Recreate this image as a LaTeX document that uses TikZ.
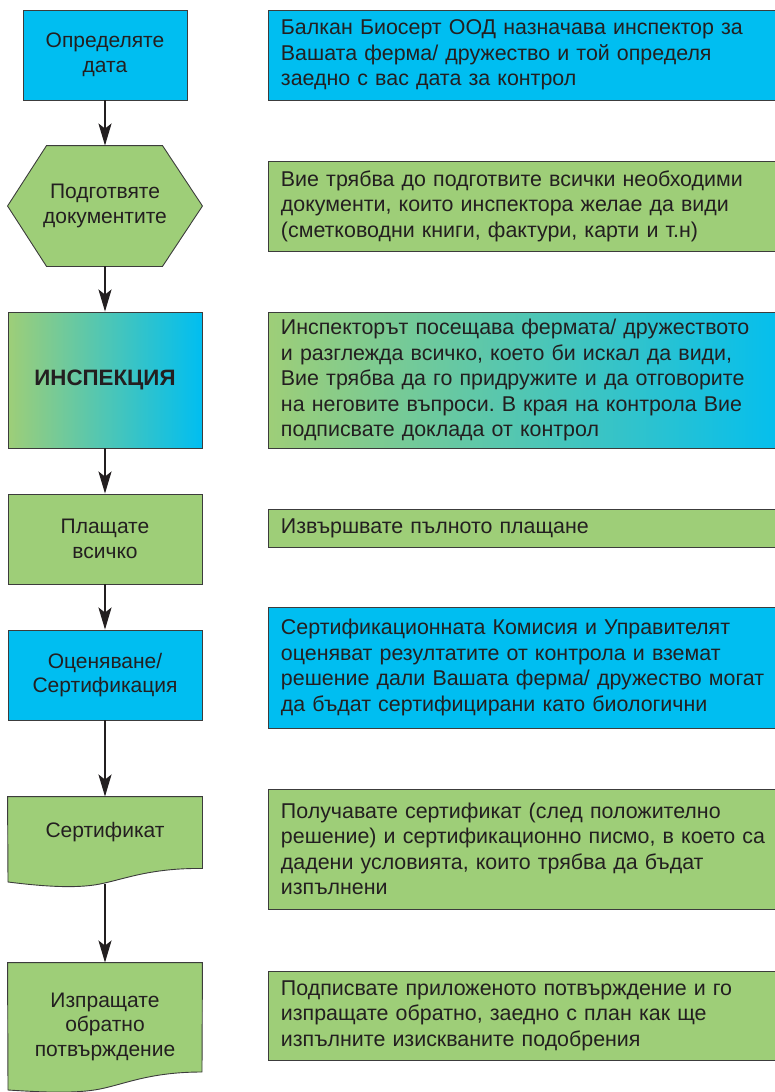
\documentclass[tikz,border=0pt]{standalone}
\usepackage{fontspec}
\setmainfont{Liberation Sans}
\usetikzlibrary{arrows.meta, positioning, backgrounds}
\definecolor{bioblue}{RGB}{0,190,241}
\definecolor{biogreen}{RGB}{158,206,120}
\definecolor{edgegray}{RGB}{60,60,60}
\definecolor{inktext}{RGB}{35,31,32}
\frenchspacing
\tikzset{
  stepbox/.style={draw=edgegray, line width=0.9pt, minimum width=194pt, inner sep=0pt,
    align=center, text=inktext, font=\fontsize{21}{24.5}\selectfont},
  notebox/.style={draw=edgegray, line width=0.9pt, anchor=west, text width=500pt,
    inner xsep=12.5pt, inner ysep=0pt, align=left, text=inktext,
    font=\fontsize{21.4}{25.5}\selectfont},
  shapeline/.style={draw=edgegray, line width=0.9pt, fill=biogreen},
  flow/.style={line width=2pt, draw=inktext, -{Stealth[length=22pt, width=13pt, inset=5pt]}},
}

\begin{document}
\begin{tikzpicture}[x=1pt, y=-1pt]
  \path[use as bounding box, clip] (0,0) rectangle (775,1092);

  \node[stepbox, fill=bioblue, minimum width=164pt, minimum height=90pt] (date) at (105,55) {Определяте\\дата};
  \node[stepbox, draw=none, minimum height=120pt] (prep) at (105,206) {Подготвяте\\документите};
  \node[stepbox, minimum height=136pt, left color=biogreen, right color=bioblue,
    font=\fontsize{22.3}{25}\selectfont\bfseries] (insp) at (105,380) {ИНСПЕКЦИЯ};
  \node[stepbox, fill=biogreen, minimum height=90pt] (pay) at (105,539) {Плащате\\всичко};
  \node[stepbox, fill=bioblue, minimum height=90pt] (eval) at (105,675) {Оценяване/\\Сертификация};
  \node[stepbox, draw=none, minimum height=71pt] (cert) at (105,832.5) {Сертификат};
  \node[stepbox, draw=none, minimum height=127pt] (send) at (105,1026.5) {Изпращате\\обратно\\потвърждение};

  \begin{scope}[on background layer]
    \draw[shapeline] (prep.west) -- ([xshift=39pt]prep.north west) -- ([xshift=-40pt]prep.north east)
      -- (prep.east) -- ([xshift=-40pt]prep.south east) -- ([xshift=39pt]prep.south west) -- cycle;
    \draw[shapeline] (8,882) -- (cert.north west) -- (cert.north east) -- (cert.south east)
      .. controls (150,868) and (125,879) .. (100,884) .. controls (75,889) and (40,886) .. (8,882) -- cycle;
    \draw[shapeline] (8,1090) -- (send.north west) -- (send.north east) -- (202,1072)
      .. controls (150,1072) and (125,1084) .. (100,1089) .. controls (75,1094) and (40,1092) .. (8,1090) -- cycle;
  \end{scope}

  \node[notebox, fill=bioblue, minimum height=90pt] (datenote) at (268,55)
    {Балкан Биосерт ООД назначава инспектор за\\Вашата ферма/ дружество и той определя\\заедно с вас дата за контрол};
  \node[notebox, fill=biogreen, minimum height=90pt] (prepnote) at (268,206)
    {Вие трябва до подготвите всички необходими\\документи, които инспектора желае да види\\(сметководни книги, фактури, карти и т.н)};
  \node[notebox, left color=biogreen, right color=bioblue, minimum height=136pt] (inspnote) at (268,380)
    {Инспекторът посещава фермата/ дружеството\\и разглежда всичко, което би искал да види,\\Вие трябва да го придружите и да отговорите\\на неговите въпроси. В края на контрола Вие\\подписвате доклада от контрол};
  \node[notebox, fill=biogreen, minimum height=38pt] (paynote) at (268,528)
    {Извършвате пълното плащане};
  \node[notebox, fill=bioblue, minimum height=121pt] (evalnote) at (268,667.5)
    {Сертификационната Комисия и Управителят\\оценяват резултатите от контрола и вземат\\решение дали Вашата ферма/ дружество могат\\да бъдат сертифицирани като биологични};
  \node[notebox, fill=biogreen, minimum height=120pt] (certnote) at (268,849)
    {Получавате сертификат (след положително\\решение) и сертификационно писмо, в което са\\дадени условията, които трябва да бъдат\\изпълнени};
  \node[notebox, fill=biogreen, minimum height=89pt] (sendnote) at (268,1015.5)
    {Подписвате приложеното потвърждение и го\\изпращате обратно, заедно с план как ще\\изпълните изискваните подобрения};

  \coordinate (certtail) at ([yshift=-16pt]cert.south);
  \foreach \a/\b in {date/prep, prep/insp, insp/pay, pay/eval, eval/cert}
    \draw[flow] (\a.south) -- (\b.north);
  \draw[flow] (certtail) -- (send.north);
\end{tikzpicture}
\end{document}
